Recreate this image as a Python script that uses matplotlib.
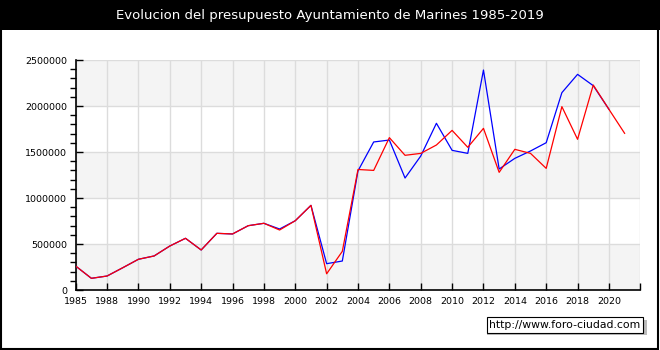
import matplotlib
matplotlib.use("Agg")
import matplotlib.pyplot as plt
from matplotlib.patches import Rectangle
from matplotlib.ticker import MultipleLocator

title = "Evolucion del presupuesto Ayuntamiento de Marines 1985-2019"

# red series (one point per year)
red_years = list(range(1986, 2022))
red_values = [260000, 127000, 152000, 242000, 334000, 370000, 478000, 562000,
              435000, 616000, 609000, 699000, 725000, 652000, 753000, 920000,
              176000, 420000, 1310000, 1300000, 1656000, 1464000, 1485000,
              1576000, 1735000, 1551000, 1757000, 1279000, 1529000, 1485000,
              1322000, 1993000, 1638000, 2228000, 1964000, 1703000]

# blue series
blue_years = list(range(1986, 2021))
blue_values = [260000, 127000, 152000, 242000, 334000, 370000, 478000, 562000,
               435000, 616000, 609000, 699000, 725000, 663000, 753000, 920000,
               286000, 315000, 1295000, 1609000, 1630000, 1217000, 1456000,
               1812000, 1518000, 1485000, 2391000, 1315000, 1431000, 1511000,
               1601000, 2145000, 2344000, 2221000, 1964000]

tick_pos = list(range(1986, 2023, 2))
tick_labels = ["1985", "1988", "1990", "1992", "1994", "1996", "1998", "2000",
               "2002", "2004", "2006", "2008", "2010", "2012", "2014", "2016",
               "2018", "2020", ""]

fig = plt.figure(figsize=(6.6, 3.5), dpi=100)
fig.patch.set_facecolor("white")

# title bar and outer frame
fig.patches.append(Rectangle((0, 320 / 350), 1, 30 / 350, transform=fig.transFigure,
                             facecolor="black", edgecolor="none", zorder=0))
fig.patches.append(Rectangle((0.001, 0.003), 0.996, 0.994, transform=fig.transFigure,
                             facecolor="none", edgecolor="black", lw=1.5, zorder=5))
fig.text(0.5, 1 - 15 / 350, title, color="white", ha="center", va="center", fontsize=9.5)

ax = fig.add_axes([75.7 / 660, 60 / 350, (640.3 - 75.7) / 660, 230 / 350])
ax.set_facecolor("white")

# alternating bands
for lo in [0, 1000000, 2000000]:
    ax.axhspan(lo, lo + 500000, color="#f4f4f4", zorder=0, lw=0)

ax.plot(blue_years, blue_values, color="blue", lw=0.9, zorder=3)
ax.plot(red_years, red_values, color="red", lw=0.9, zorder=4)

ax.set_xlim(1986, 2022)
ax.set_ylim(0, 2500000)
ax.set_xticks(tick_pos)
ax.set_xticklabels(tick_labels)
ax.yaxis.set_major_locator(MultipleLocator(500000))
ax.yaxis.set_minor_locator(MultipleLocator(100000))
ax.ticklabel_format(axis="y", style="plain")

ax.grid(True, color="#dcdcdc", lw=1, zorder=1)
ax.set_axisbelow(True)
ax.tick_params(axis="both", direction="in", labelsize=6.8, colors="black")
ax.tick_params(axis="x", length=5, width=1, pad=5)
ax.tick_params(axis="y", which="major", length=5, width=1, pad=6)
ax.tick_params(axis="y", which="minor", length=4, width=1)

for s in ["top", "right"]:
    ax.spines[s].set_visible(False)
for s in ["left", "bottom"]:
    ax.spines[s].set_color("black")
    ax.spines[s].set_linewidth(1.2)

# url box with shadow
fig.patches.append(Rectangle((487 / 660, 1 - 335 / 350), 160 / 660, 15 / 350,
                             transform=fig.transFigure, facecolor="#bbbbbb",
                             edgecolor="none", zorder=2))
fig.text(565 / 660, 1 - 325 / 350, "http://www.foro-ciudad.com", ha="center", va="center",
         fontsize=7.8, color="black", zorder=4,
         bbox=dict(boxstyle="square,pad=0.25", facecolor="white", edgecolor="black", lw=0.8))

fig.savefig("out.png", dpi=100)
